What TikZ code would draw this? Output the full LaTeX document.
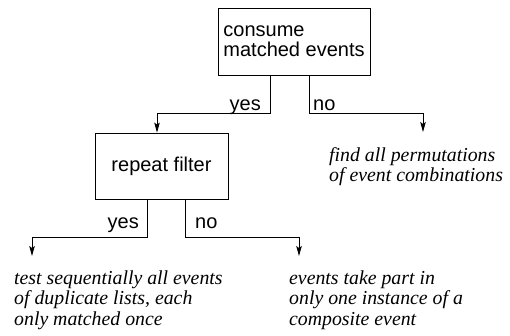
\documentclass[tikz,border=0pt]{standalone}
\usepackage{fontspec}
\setmainfont{Liberation Serif}
\setsansfont{Liberation Sans}
\usetikzlibrary{arrows.meta}
\begin{document}
\begin{tikzpicture}[x=1pt,y=-1pt,
  box/.style={draw,line width=0.8pt,inner sep=0pt,align=left,
    font=\sffamily\fontsize{20}{20}\selectfont},
  lab/.style={inner sep=0pt,font=\sffamily\fontsize{20}{20}\selectfont},
  outc/.style={inner sep=0pt,align=left,
    font=\rmfamily\itshape\fontsize{19.8}{20.5}\selectfont},
  arr/.style={line width=0.8pt,-{Stealth[length=10pt,width=5.5pt,inset=2pt]}},
  ln/.style={line width=0.8pt}]
\useasboundingbox (0,0) rectangle (510,335);
\node[box,minimum width=152pt,minimum height=67pt] (top) at (294,41.5) {consume\\matched events};
\node[box,minimum width=133pt,minimum height=66pt] (rep) at (161.5,166) {repeat filter};

\coordinate (t1) at (270,113);
\coordinate (t1e) at (157,113);
\coordinate (t2) at (309,113);
\coordinate (t2e) at (423,113);
\coordinate (t2tip) at (423,132);
\coordinate (r1) at (147,237);
\coordinate (r1e) at (32,237);
\coordinate (r1tip) at (32,256);
\coordinate (r2) at (185,237);
\coordinate (r2e) at (299,237);
\coordinate (r2tip) at (299,256);

\draw[arr] (top.south -| t1) |- (t1e) -- (rep.north -| t1e);
\draw[arr] (top.south -| t2) |- (t2e) -- (t2tip);
\draw[arr] (rep.south -| r1) |- (r1e) -- (r1tip);
\draw[arr] (rep.south -| r2) |- (r2e) -- (r2tip);

\node[lab,anchor=base east] (y1) at (261,110) {yes};
\node[lab,anchor=base west] (n1) at (313,110) {no};
\node[lab,anchor=base east] (y2) at (139,228) {yes};
\node[lab,anchor=base west] (n2) at (195,228) {no};

\node[outc,anchor=base west] (perm) at (329,181.5) {find all permutations\\of event combinations};
\node[outc,anchor=base west] (seq) at (14,325) {test sequentially all events\\of duplicate lists, each\\only matched once};
\node[outc,anchor=base west] (once) at (289,325) {events take part in\\only one instance of a\\composite event};
\end{tikzpicture}
\end{document}
